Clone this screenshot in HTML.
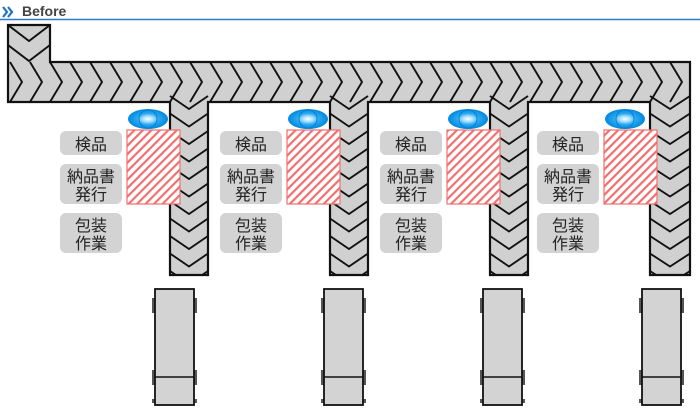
<!DOCTYPE html>
<html><head><meta charset="utf-8"><style>
body{margin:0;background:#fff;width:700px;height:419px;overflow:hidden}
svg{display:block}
text{font-family:"Liberation Sans","Noto Sans CJK JP",sans-serif}
</style></head><body>
<svg id="s" width="700" height="419" viewBox="0 0 700 419">
<defs>
<pattern id="h" width="6" height="6" patternUnits="userSpaceOnUse" patternTransform="rotate(45)">
<rect width="6" height="6" fill="#fff"/><rect width="2.2" height="6" fill="#f07070"/></pattern>
<radialGradient id="e" cx="0.5" cy="0.5" r="0.5"><stop offset="0" stop-color="#fff"/><stop offset="0.3" stop-color="#9adcff"/><stop offset="0.55" stop-color="#2aa8f0"/><stop offset="1" stop-color="#0088dd"/></radialGradient>
<clipPath id="cc"><path d="M8,25 H50 V62 H690 V275 H650 V102 H528 V275 H490 V102 H368 V275 H330 V102 H208 V275 H170 V102 H8 Z"/></clipPath>
</defs>
<path d="M3,7 l4,5 l-4,5 M8,7 l4,5 l-4,5" stroke="#1e73be" stroke-width="2.2" fill="none"/>
<text x="22" y="16" font-size="14" font-weight="bold" fill="#444">Before</text>
<line x1="0" y1="19.5" x2="700" y2="19.5" stroke="#2a7cc7" stroke-width="1.5"/>
<path d="M8,25 H50 V62 H690 V275 H650 V102 H528 V275 H490 V102 H368 V275 H330 V102 H208 V275 H170 V102 H8 Z" fill="#d0d0d0"/>
<g id="chev" clip-path="url(#cc)" stroke="#111" stroke-width="1.9" fill="none"></g>
<path d="M8,25 H50 V62 H690 V275 H650 V102 H528 V275 H490 V102 H368 V275 H330 V102 H208 V275 H170 V102 H8 Z" fill="none" stroke="#111" stroke-width="2.2"/>
<g id="grp"></g>
</svg>
<script>
var ns="http://www.w3.org/2000/svg";
function el(p,t,a,txt){var e=document.createElementNS(ns,t);for(var k in a)e.setAttribute(k,a[k]);if(txt)e.textContent=txt;p.appendChild(e);return e;}
var c=document.getElementById('chev');
for(var y=25;y<62;y+=20) el(c,'path',{d:'M8,'+y+' L29,'+(y+16)+' L50,'+y});
for(var x=10;x<680;x+=20) el(c,'path',{d:'M'+x+',62 L'+(x+12)+',82 L'+x+',102'});
[[170,208],[330,368],[490,528],[650,690]].forEach(function(p){
 var m=(p[0]+p[1])/2;
 for(var y=96;y<280;y+=17.5) el(c,'path',{d:'M'+p[0]+','+y+' L'+m+','+(y+13)+' L'+p[1]+','+y});
});
var g=document.getElementById('grp');
var tr=[153,322,481,640];
[0,160,320,477].forEach(function(o,i){
 el(g,'rect',{x:127+o,y:130,width:53,height:74,fill:'url(#h)',stroke:'#f07070','stroke-width':1.2});
 el(g,'ellipse',{cx:148+o,cy:119,rx:20,ry:10,fill:'url(#e)'});
 el(g,'ellipse',{cx:148+o,cy:119,rx:9,ry:9,fill:'none',stroke:'#0a7fd0','stroke-width':1});
 var lx=60+o;
 el(g,'rect',{x:lx,y:131,width:62,height:24,rx:6,fill:'#d3d3d3'});
 el(g,'rect',{x:lx,y:164,width:62,height:40,rx:6,fill:'#d3d3d3'});
 el(g,'rect',{x:lx,y:213,width:62,height:40,rx:6,fill:'#d3d3d3'});
 var tc=lx+31;
 el(g,'text',{x:tc,y:150,'font-size':16,'text-anchor':'middle',fill:'#222'},'検品');
 el(g,'text',{x:tc,y:182,'font-size':16,'text-anchor':'middle',fill:'#222'},'納品書');
 el(g,'text',{x:tc,y:200,'font-size':16,'text-anchor':'middle',fill:'#222'},'発行');
 el(g,'text',{x:tc,y:231,'font-size':16,'text-anchor':'middle',fill:'#222'},'包装');
 el(g,'text',{x:tc,y:249,'font-size':16,'text-anchor':'middle',fill:'#222'},'作業');
 var tx=tr[i]+2;
 el(g,'rect',{x:tx-3,y:298,width:4,height:15,fill:'#555'});
 el(g,'rect',{x:tx+38,y:298,width:4,height:15,fill:'#555'});
 el(g,'rect',{x:tx-3,y:370,width:4,height:15,fill:'#555'});
 el(g,'rect',{x:tx+38,y:370,width:4,height:15,fill:'#555'});
 el(g,'rect',{x:tx-3,y:399,width:4,height:4,fill:'#555'});
 el(g,'rect',{x:tx+38,y:399,width:4,height:4,fill:'#555'});
 el(g,'rect',{x:tx,y:289,width:39,height:116,fill:'#d3d3d3',stroke:'#111','stroke-width':1.8});
 el(g,'line',{x1:tx,y1:377,x2:tx+39,y2:377,stroke:'#111','stroke-width':1.4});
});
</script>
</body></html>
